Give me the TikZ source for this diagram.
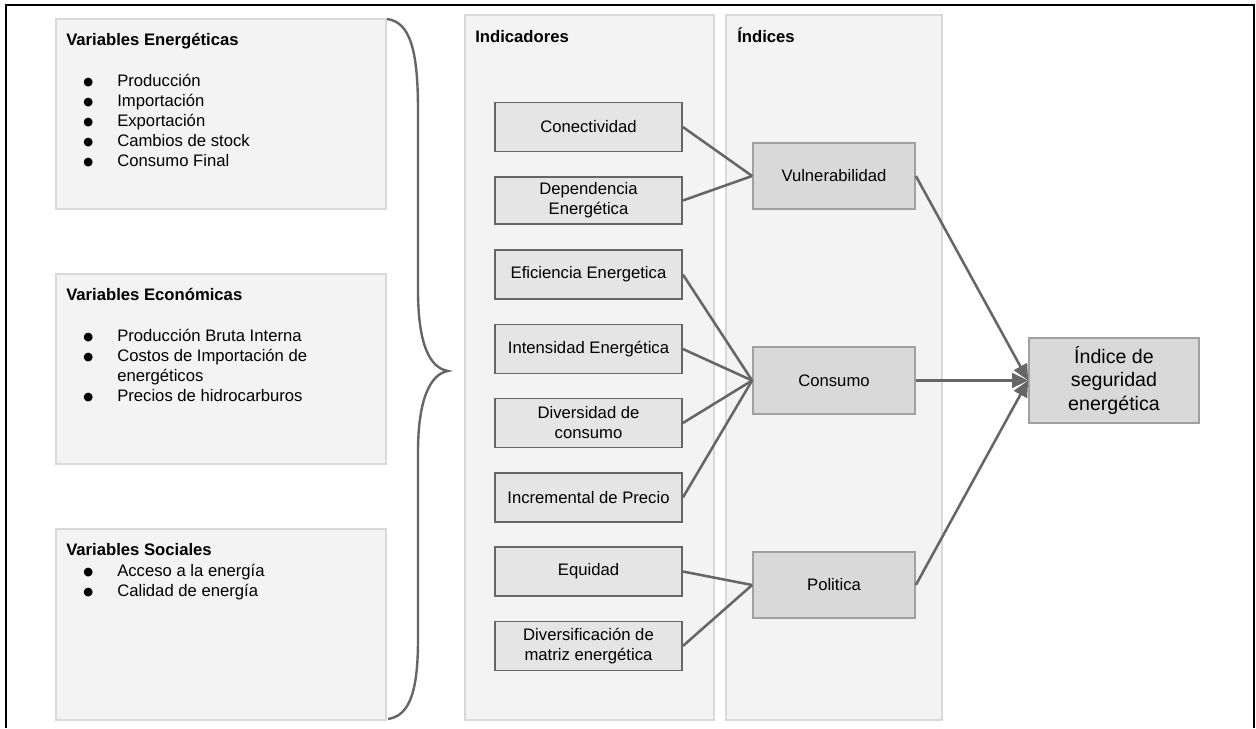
\documentclass[tikz,border=0pt]{standalone}
\usepackage{fontspec}
\setmainfont{Liberation Sans}
\newfontfamily\symfont{DejaVu Sans}
\usetikzlibrary{fit,arrows.meta}
\definecolor{panelfill}{HTML}{F3F3F3}
\definecolor{panelline}{HTML}{D9D9D9}
\definecolor{indfill}{HTML}{E5E5E5}
\definecolor{indline}{HTML}{666666}
\definecolor{idxfill}{HTML}{D9D9D9}
\definecolor{idxline}{HTML}{A0A0A0}
\definecolor{connc}{HTML}{666666}
\tikzset{
  panel/.style={draw=panelline, fill=panelfill, line width=0.8pt, inner sep=0pt},
  indbox/.style={draw=indline, fill=indfill, line width=1.3pt, inner sep=0pt, align=center,
    minimum width=187*0.75pt, minimum height=49*0.75pt,
    font=\fontsize{12.5}{15}\selectfont},
  idxbox/.style={draw=idxline, fill=idxfill, line width=1.3pt, inner sep=0pt, align=center,
    minimum width=162*0.75pt, minimum height=66*0.75pt,
    font=\fontsize{12.5}{15}\selectfont},
  finalbox/.style={draw=idxline, fill=idxfill, line width=1.3pt, inner sep=0pt, align=center,
    minimum width=170*0.75pt, minimum height=85*0.75pt,
    font=\fontsize{14.7}{17.3}\selectfont},
  ttl/.style={anchor=base west, inner sep=0pt, font=\bfseries\fontsize{12.5}{15}\selectfont},
  itm/.style={anchor=base west, inner sep=0pt, font=\fontsize{12.5}{15}\selectfont},
  conn/.style={draw=connc, line width=1.9pt},
  arr/.style={draw=connc, line width=1.9pt, -{Triangle[length=12pt,width=11pt]}},
  bracec/.style={draw=connc, line width=1.8pt}
}
\newcommand{\bl}[1]{\makebox[25.5pt][l]{\raisebox{0.6pt}{\symfont\fontsize{8.5}{8.5}\selectfont ●}}#1}
\begin{document}
\begin{tikzpicture}[x=0.75pt,y=-0.75pt]
\useasboundingbox (0,0) rectangle (1256,728);
\fill[white] (0,0) rectangle (1256,728);
% outer frame
\draw[black, line width=1.5pt] (6,728) -- (6,5) -- (1254,5) -- (1254,728);

% left boxes
\node[panel, fit={(56,19) (386,209)}] (boxE) {};
\node[panel, fit={(56,274) (386,464)}] (boxC) {};
\node[panel, fit={(56,529) (386,720)}] (boxS) {};

\node[ttl] (tE) at (66,45) {Variables Energéticas};
\node[itm] (e1) at (83,86) {\bl{Producción}};
\node[itm] (e2) at (83,106) {\bl{Importación}};
\node[itm] (e3) at (83,126) {\bl{Exportación}};
\node[itm] (e4) at (83,146) {\bl{Cambios de stock}};
\node[itm] (e5) at (83,166) {\bl{Consumo Final}};

\node[ttl] (tC) at (66,300) {Variables Económicas};
\node[itm] (c1) at (83,341) {\bl{Producción Bruta Interna}};
\node[itm] (c2) at (83,361) {\bl{Costos de Importación de}};
\node[itm] (c2b) at (117,381) {energéticos};
\node[itm] (c3) at (83,401) {\bl{Precios de hidrocarburos}};

\node[ttl] (tS) at (66,555) {Variables Sociales};
\node[itm] (s1) at (83,576) {\bl{Acceso a la energía}};
\node[itm] (s2) at (83,596) {\bl{Calidad de energía}};

% brace
\draw[bracec] (387,19) .. controls (410,22) and (418,50) .. (418,110)
  -- (418,290) .. controls (418,345) and (430,368) .. (448,371)
  .. controls (430,374) and (418,400) .. (418,452)
  -- (418,640) .. controls (418,700) and (406,716) .. (388,719);

% panels
\node[panel, fit={(465,15) (714,720)}] (pInd) {};
\node[panel, fit={(726,15) (942,720)}] (pIdx) {};
\node[ttl] (tInd) at (475,42) {Indicadores};
\node[ttl] (tIdx) at (737,42) {Índices};

% indicator boxes
\node[indbox] (conect) at (588.5,127) {Conectividad};
\node[indbox, minimum height=47*0.75pt] (depend) at (588.5,200.5) {Dependencia\\Energética};
\node[indbox] (efic) at (588.5,274.5) {Eficiencia Energetica};
\node[indbox] (inten) at (588.5,349) {Intensidad Energética};
\node[indbox] (diver) at (588.5,423) {Diversidad de\\consumo};
\node[indbox] (incre) at (588.5,497.5) {Incremental de Precio};
\node[indbox] (equi) at (588.5,571.5) {Equidad};
\node[indbox] (divmat) at (588.5,646) {Diversificación de\\matriz energética};

% index boxes
\node[idxbox] (vul) at (834,176) {Vulnerabilidad};
\node[idxbox, minimum height=67*0.75pt] (cons) at (834,380.5) {Consumo};
\node[idxbox] (pol) at (834,585) {Politica};

% final
\node[finalbox] (final) at (1114,380.5) {Índice de\\seguridad\\energética};

% connectors
\draw[conn] (conect.east) -- (vul.west);
\draw[conn] (depend.east) -- (vul.west);
\draw[conn] (efic.east) -- (cons.west);
\draw[conn] (inten.east) -- (cons.west);
\draw[conn] (diver.east) -- (cons.west);
\draw[conn] (incre.east) -- (cons.west);
\draw[conn] (equi.east) -- (pol.west);
\draw[conn] (divmat.east) -- (pol.west);

\draw[arr] (vul.east) -- (final.west);
\draw[arr] (cons.east) -- (final.west);
\draw[arr] (pol.east) -- (final.west);
\end{tikzpicture}
\end{document}
